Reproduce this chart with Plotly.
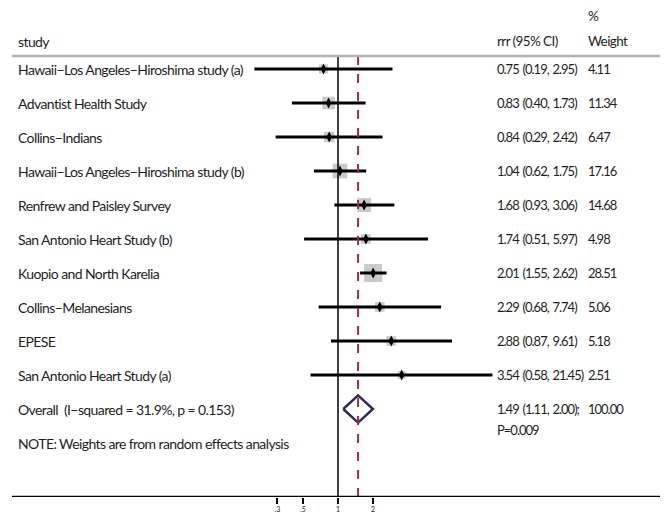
import math
import plotly.graph_objects as go

studies = [
    "Hawaii\u2212Los Angeles\u2212Hiroshima study (a)",
    "Advantist Health Study",
    "Collins\u2212Indians",
    "Hawaii\u2212Los Angeles\u2212Hiroshima study (b)",
    "Renfrew and Paisley Survey",
    "San Antonio Heart Study (b)",
    "Kuopio and North Karelia",
    "Collins\u2212Melanesians",
    "EPESE",
    "San Antonio Heart Study (a)",
]
rr = [0.75, 0.83, 0.84, 1.04, 1.68, 1.74, 2.01, 2.29, 2.88, 3.54]
lo = [0.19, 0.40, 0.29, 0.62, 0.93, 0.51, 1.55, 0.68, 0.87, 0.58]
hi = [2.95, 1.73, 2.42, 1.75, 3.06, 5.97, 2.62, 7.74, 9.61, 21.45]
weights = [4.11, 11.34, 6.47, 17.16, 14.68, 4.98, 28.51, 5.06, 5.18, 2.51]

overall_label = "Overall  (I\u2212squared = 31.9%, p = 0.153)"
overall_rr, overall_lo, overall_hi = 1.49, 1.11, 2.00
overall_p = "P=0.009"
overall_weight = 100.00
note = "NOTE: Weights are from random effects analysis"

tick_vals = [0.3, 0.5, 1, 2]
tick_text = [".3", ".5", "1", "2"]

# the page body adds an 8px margin: draw the figure 8px smaller, shift positions by -8
OFF = 8
W, H = 668 - OFF, 519 - OFF
FONT = "Lato, Roboto, sans-serif"
TXT = "#1e1e1e"

rows = list(range(len(studies)))
row_overall = len(studies)
row_note = row_overall + 1

ROW0, STEP, AXIS_PX = 69 - OFF, 34, 497 - OFF
def row_of(px_ref):
    return (px_ref - OFF - ROW0) / STEP
def xp(px_ref):
    return (px_ref - OFF) / W

fig = go.Figure()

sizes = [3.5 + 2.72 * math.sqrt(w) for w in weights]
fig.add_trace(go.Scatter(
    x=rr, y=rows, mode="markers",
    marker=dict(symbol="square", size=sizes, color="#b4b4b4", line=dict(width=0)),
    hoverinfo="skip", showlegend=False))

fig.add_trace(go.Scatter(
    x=rr, y=rows, mode="markers",
    marker=dict(symbol="diamond-tall", size=8, color="black"),
    error_x=dict(type="data", symmetric=False,
                 array=[h - r for h, r in zip(hi, rr)],
                 arrayminus=[r - l for r, l in zip(rr, lo)],
                 thickness=3, width=0, color="black"),
    hoverinfo="skip", showlegend=False))

hh = 0.4
fig.add_trace(go.Scatter(
    x=[overall_lo, overall_rr, overall_hi, overall_rr, overall_lo],
    y=[row_overall, row_overall - hh, row_overall, row_overall + hh, row_overall],
    mode="lines", line=dict(color="#2d2b5c", width=2.5),
    hoverinfo="skip", showlegend=False))

header_row = row_of(56)
bottom_row = (AXIS_PX - ROW0) / STEP

shapes = [
    dict(type="line", xref="x", yref="y", x0=1, x1=1, y0=header_row, y1=bottom_row,
         line=dict(color="black", width=1.5)),
    dict(type="line", xref="x", yref="y", x0=overall_rr, x1=overall_rr,
         y0=header_row, y1=bottom_row,
         line=dict(color="#9b2f3f", width=2, dash="dash")),
    dict(type="line", xref="paper", yref="y", x0=xp(12), x1=1, y0=header_row, y1=header_row,
         line=dict(color="#b4b4b4", width=2.5)),
    dict(type="line", xref="paper", yref="y", x0=xp(12), x1=1, y0=bottom_row, y1=bottom_row,
         line=dict(color="black", width=2.5)),
]

ann = []
def txt(xref_px, row, s, size, ls, ws=0):
    ann.append(dict(x=xp(xref_px), xref="paper", y=row, yref="y",
                    text=f'<span style="letter-spacing:{ls}px;word-spacing:{ws}px">{s}</span>',
                    showarrow=False, xanchor="left", yanchor="middle",
                    font=dict(family=FONT, size=size, color=TXT)))

LAB = dict(size=14, ls=-0.6)
NUM = dict(size=13, ls=-1.0, ws=1.5)
HEAD = dict(size=13.5, ls=-0.6)
X_LAB, X_CI, X_W = 16, 495, 586
txt(X_LAB, row_of(41), "study", **LAB)
txt(X_CI, row_of(41), "rrr (95% CI)", **HEAD)
txt(X_W, row_of(16), "%", **HEAD)
txt(X_W, row_of(41), "Weight", **HEAD)
for i, s in enumerate(studies):
    txt(X_LAB, i, s, **LAB)
    txt(X_CI, i, f"{rr[i]:.2f} ({lo[i]:.2f}, {hi[i]:.2f})", **NUM)
    txt(X_W, i, f"{weights[i]:.2f}", **NUM)
txt(X_LAB, row_overall, overall_label, **LAB)
txt(X_CI, row_overall, f"{overall_rr:.2f} ({overall_lo:.2f}, {overall_hi:.2f});", **NUM)
txt(X_CI, row_overall + 0.62, overall_p, **NUM)
txt(X_W, row_overall, f"{overall_weight:.2f}", **NUM)
txt(X_LAB, row_note, note, **LAB)

dec = 116.0
x0 = -(338 - OFF) / dec
x1 = (W - (338 - OFF)) / dec

fig.update_layout(
    width=W, height=H,
    margin=dict(l=0, r=0, t=0, b=0),
    paper_bgcolor="white", plot_bgcolor="white",
    shapes=shapes, annotations=ann,
    xaxis=dict(type="log", range=[x0, x1], showgrid=False, zeroline=False,
               showline=False, ticks="outside", ticklen=6, tickwidth=2, tickcolor="black",
               tickvals=tick_vals, ticktext=tick_text,
               tickfont=dict(family=FONT, size=7, color=TXT)),
    yaxis=dict(range=[bottom_row, -ROW0 / STEP], domain=[(H - AXIS_PX) / H, 1],
               showgrid=False, zeroline=False, showticklabels=False, ticks="",
               showline=False),
)

fig.write_html("out.html")
